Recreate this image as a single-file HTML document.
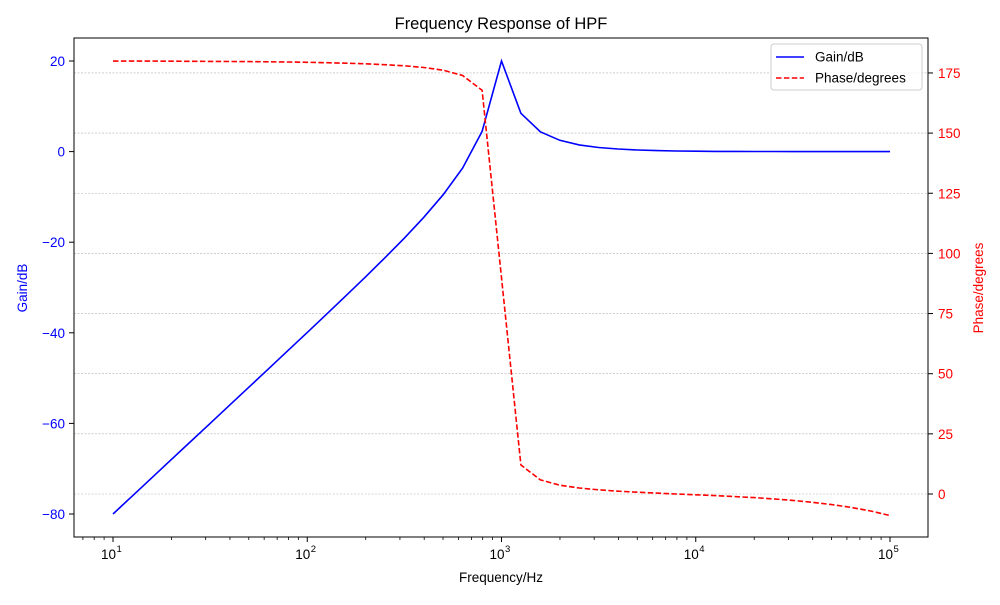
<!DOCTYPE html>
<html><head><meta charset="utf-8"><style>
body{margin:0;background:#fff}
text{font-family:"Liberation Sans","DejaVu Sans",sans-serif}
</style></head><body>
<svg id="s" width="1000" height="600" xmlns="http://www.w3.org/2000/svg">
<rect width="1000" height="600" fill="#fff"/>
<g id="grid"></g>
<polyline id="gain" fill="none" stroke="#0000ff" stroke-width="1.6"/>
<polyline id="phase" fill="none" stroke="#ff0000" stroke-width="1.6" stroke-dasharray="5.5,2.4"/>
<rect x="74" y="38" width="854" height="499" fill="none" stroke="#000" stroke-width="1"/>
<g id="ticks"></g>
<text x="501" y="29" font-size="16.5" text-anchor="middle">Frequency Response of HPF</text>
<text x="501" y="582" font-size="13.5" text-anchor="middle">Frequency/Hz</text>
<text transform="translate(27,288) rotate(-90)" font-size="13.5" text-anchor="middle" fill="#0000ff">Gain/dB</text>
<text transform="translate(983,288) rotate(-90)" font-size="13.5" text-anchor="middle" fill="#ff0000">Phase/degrees</text>
<rect x="771" y="44" width="151" height="46" rx="3" fill="#fff" fill-opacity="0.8" stroke="#ccc"/>
<line x1="776" y1="57" x2="804" y2="57" stroke="#0000ff" stroke-width="1.6"/>
<text x="815" y="61.5" font-size="13.5">Gain/dB</text>
<line x1="776" y1="78" x2="804" y2="78" stroke="#ff0000" stroke-width="1.6" stroke-dasharray="5.5,2.4"/>
<text x="815" y="82.5" font-size="13.5">Phase/degrees</text>
</svg>
<script>
var X=function(f){return 113+(Math.log10(f)-1)*194.25};
var YG=function(g){return 151.6-g*4.53};
var YP=function(p){return 494-p*2.406};
var NS="http://www.w3.org/2000/svg";
function el(p,t,a,txt){var e=document.createElementNS(NS,t);for(var k in a)e.setAttribute(k,a[k]);if(txt!=null)e.textContent=txt;p.appendChild(e);return e}
var g=[],p=[];
for(var i=0;i<=40;i++){var f=Math.pow(10,1+i/10),x=f/1000,Q=10;
 var re=1-x*x,im=x/Q;var mag=x*x/Math.sqrt(re*re+im*im);
 var ph=180-Math.atan2(im,re)*180/Math.PI - 9*f/1e5;
 g.push(X(f).toFixed(1)+","+YG(20*Math.log10(mag)).toFixed(1));
 p.push(X(f).toFixed(1)+","+YP(ph).toFixed(1));}
document.getElementById("gain").setAttribute("points",g.join(" "));
document.getElementById("phase").setAttribute("points",p.join(" "));
var gr=document.getElementById("grid"),tk=document.getElementById("ticks");
for(var v=0;v<=175;v+=25){var y=YP(v);
 el(gr,"line",{x1:74,x2:928,y1:y,y2:y,stroke:"#b0b0b0","stroke-width":0.6,"stroke-dasharray":"2,1.5"});
 el(tk,"line",{x1:928,x2:933,y1:y,y2:y,stroke:"#000"});
 el(tk,"text",{x:938,y:y+5,"font-size":13.5,fill:"#ff0000"},String(v));}
for(var v=-80;v<=20;v+=20){var y=YG(v);
 el(tk,"line",{x1:69,x2:74,y1:y,y2:y,stroke:"#000"});
 el(tk,"text",{x:65,y:y+5,"font-size":13.5,fill:"#0000ff","text-anchor":"end"},v<0?"\u2212"+(-v):String(v));}
for(var d=0;d<=5;d++){for(var m=1;m<10;m++){var f=m*Math.pow(10,d),x=X(f);if(x<74||x>928)continue;
 if(m==1){el(tk,"line",{x1:x,x2:x,y1:537,y2:542,stroke:"#000"});
  el(tk,"text",{x:x+3,y:559,"font-size":13.5,"text-anchor":"end"},"10");
  el(tk,"text",{x:x+3.5,y:552,"font-size":9.5},String(d));}
 else el(tk,"line",{x1:x,x2:x,y1:537,y2:540,stroke:"#000","stroke-width":0.8});}}
</script>
</body></html>
